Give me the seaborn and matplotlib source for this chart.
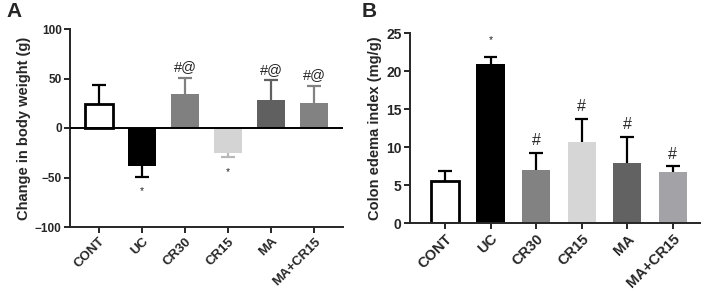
import numpy as np
import pandas as pd
import matplotlib
matplotlib.use("Agg")
import matplotlib.pyplot as plt
import seaborn as sns

sns.set_theme(style="ticks")
plt.rcParams['font.family'] = ['Liberation Sans', 'DejaVu Sans']
plt.rcParams['font.weight'] = 'bold'

groups = ["CONT", "UC", "CR30", "CR15", "MA", "MA+CR15"]
weight_mean = [24, -38, 34, -25, 28, 25.5]
weight_err = [19, 11, 17, 4, 20, 16.5]
weight_marks = ["", "*", "#@", "*", "#@", "#@"]
edema_mean = [5.6, 21.0, 7.0, 10.65, 8.0, 6.8]
edema_err = [1.3, 0.85, 2.25, 3.1, 3.4, 0.7]
edema_marks = ["", "*", "#", "#", "#", "#"]

colors_a = ["#ffffff", "#000000", "#808080", "#d4d4d4", "#606060", "#828282"]
colors_b = ["#ffffff", "#000000", "#828282", "#d6d6d6", "#626262", "#a2a2a8"]
err_a = ["#000000", "#000000", "#808080", "#b8b8b8", "#606060", "#828282"]
err_b = ["#000000"] * 6

fig = plt.figure(figsize=(7.06, 2.91), dpi=100)
axA = fig.add_axes([70/706, 1-227/291, 273/706, 198/291])
axB = fig.add_axes([410/706, 1-223.3/291, 290/706, 190/291])


def draw(ax, means, errs, colors, ecols, width, cap, xsize, ysize):
    df = pd.DataFrame({"group": groups, "value": means})
    sns.barplot(data=df, x="group", y="value", hue="group", palette=colors,
                order=groups, hue_order=groups, legend=False, width=width,
                ax=ax, errorbar=None, dodge=False)
    for i, p in enumerate(ax.patches[:len(groups)]):
        p.set_zorder(2)
        if i == 0:
            p.set_edgecolor("black")
            p.set_linewidth(2)
        else:
            p.set_linewidth(0)
    for i, (m, e) in enumerate(zip(means, errs)):
        end = m + e if m >= 0 else m - e
        ax.vlines(i, m, end, colors=ecols[i], lw=1.6, zorder=1)
        ax.hlines(end, i - cap, i + cap, colors=ecols[i], lw=1.6, zorder=1)
    for s in ["top", "right"]:
        ax.spines[s].set_visible(False)
    for s in ["left", "bottom"]:
        ax.spines[s].set_linewidth(1.4)
    ax.tick_params(axis="both", width=1.4, length=4, pad=2)
    ax.tick_params(axis="x", labelsize=xsize)
    ax.tick_params(axis="y", labelsize=ysize)
    ax.set_xlabel("")
    for lab in ax.get_xticklabels():
        lab.set_rotation(45)
        lab.set_ha("right")
        lab.set_rotation_mode("anchor")
        lab.set_fontweight("bold")
    for lab in ax.get_yticklabels():
        lab.set_fontweight("bold")


# Panel A
draw(axA, weight_mean, weight_err, colors_a, err_a, 0.65, 0.16, 9.5, 8.5)
axA.set_ylim(-100, 100)
axA.set_yticks([-100, -50, 0, 50, 100])
axA.set_xlim(-0.67, 5.67)
axA.axhline(0, color="black", lw=1.4, zorder=3)
axA.set_ylabel("Change in body weight (g)", fontsize=10.5, fontweight="bold", labelpad=3)
for i, (m, e, t) in enumerate(zip(weight_mean, weight_err, weight_marks)):
    if not t:
        continue
    if m >= 0:
        axA.text(i, m + e + 4, t, ha="center", va="bottom", fontsize=10.5, fontweight="normal")
    else:
        axA.text(i, m - e - 10, t, ha="center", va="top", fontsize=7.5, fontweight="normal")

# Panel B
draw(axB, edema_mean, edema_err, colors_b, err_b, 0.62, 0.15, 10.5, 10)
axB.set_ylim(0, 25)
axB.set_yticks([0, 5, 10, 15, 20, 25])
axB.set_xlim(-0.77, 5.6)
axB.set_ylabel("Colon edema index (mg/g)", fontsize=10.5, fontweight="bold", labelpad=3)
for i, (m, e, t) in enumerate(zip(edema_mean, edema_err, edema_marks)):
    if not t:
        continue
    if t == "*":
        axB.text(i, m + e + 1.6, t, ha="center", va="bottom", fontsize=7.5, fontweight="normal")
    else:
        axB.text(i, m + e + 0.6, t, ha="center", va="bottom", fontsize=11.5, fontweight="normal")

fig.text(6/706, 1-2/291, "A", fontsize=15, fontweight="bold", ha="left", va="top")
fig.text(362/706, 1-2/291, "B", fontsize=15, fontweight="bold", ha="left", va="top")

fig.savefig("out.png", dpi=100)
